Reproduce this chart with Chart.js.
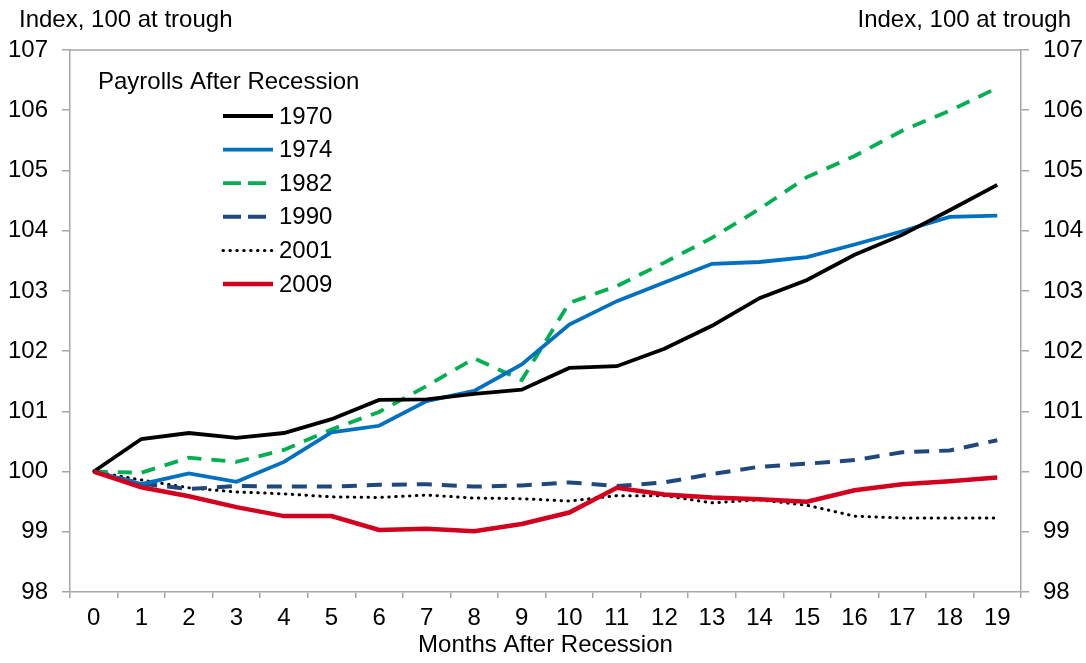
<!DOCTYPE html>
<html>
<head>
<meta charset="utf-8">
<script src="https://cdn.jsdelivr.net/npm/chart.js@4"></script>
<style>
  html, body { margin: 0; padding: 0; background: #fff; }
  #wrap { width: 1086px; height: 663px; position: relative; }
</style>
</head>
<body>
<div id="wrap"><canvas id="payrollChart"></canvas></div>
<script>
// =====================================================
// DATA
// =====================================================

const months = [
  "0", "1", "2", "3", "4", "5", "6", "7", "8", "9",
  "10", "11", "12", "13", "14", "15", "16", "17", "18", "19"
];

const yTicks = [98, 99, 100, 101, 102, 103, 104, 105, 106, 107];

const r1970 = [100, 100.54, 100.64, 100.56, 100.64, 100.87, 101.19, 101.2, 101.29, 101.36,
  101.72, 101.75, 102.04, 102.42, 102.88, 103.18, 103.6, 103.93, 104.34, 104.76];

const r1974 = [100, 99.79, 99.97, 99.83, 100.16, 100.65, 100.76, 101.17, 101.34, 101.78,
  102.44, 102.83, 103.14, 103.45, 103.48, 103.56, 103.77, 103.99, 104.23, 104.25];

const r1982 = [100, 99.98, 100.23, 100.16, 100.36, 100.7, 100.99, 101.42, 101.88, 101.52,
  102.8, 103.08, 103.47, 103.88, 104.36, 104.89, 105.24, 105.66, 105.99, 106.37];

const r1990 = [100, 99.8, 99.71, 99.76, 99.75, 99.75, 99.78, 99.79, 99.75, 99.77,
  99.82, 99.76, 99.82, 99.96, 100.08, 100.13, 100.19, 100.32, 100.35, 100.52];

const r2001 = [100, 99.86, 99.73, 99.66, 99.63, 99.58, 99.57, 99.61, 99.56, 99.55,
  99.51, 99.6, 99.6, 99.48, 99.53, 99.44, 99.26, 99.23, 99.23, 99.23];

const r2009 = [100, 99.74, 99.59, 99.41, 99.26, 99.26, 99.03, 99.05, 99.01, 99.13,
  99.32, 99.73, 99.62, 99.57, 99.54, 99.5, 99.69, 99.79, 99.84, 99.9];

const FONT = "'Liberation Sans', Arial, sans-serif";
const FSIZE = 24;
const GRAY = "#a6a6a6";

// =====================================================
// PLUGINS
// =====================================================

const frameAndText = {
  id: "frameAndText",
  afterDraw(chart) {
    const ctx = chart.ctx;
    const a = chart.chartArea;

    ctx.save();

    // top border of plot box
    ctx.strokeStyle = GRAY;
    ctx.lineWidth = 1.5;
    ctx.beginPath();
    ctx.moveTo(a.left, a.top);
    ctx.lineTo(a.right, a.top);
    ctx.stroke();

    // axis unit labels
    ctx.fillStyle = "#000";
    ctx.font = FSIZE + "px " + FONT;
    ctx.textBaseline = "alphabetic";
    ctx.textAlign = "left";
    ctx.fillText("Index, 100 at trough", 19, 27);
    ctx.textAlign = "right";
    ctx.fillText("Index, 100 at trough", 1071, 27);

    ctx.restore();
  }
};

const insideLegend = {
  id: "insideLegend",
  afterDatasetsDraw(chart, args, opts) {
    const ctx = chart.ctx;

    ctx.save();
    ctx.fillStyle = "#000";
    ctx.font = FSIZE + "px " + FONT;
    ctx.textBaseline = "middle";
    ctx.textAlign = "left";
    ctx.fillText(opts.title, opts.titleX, opts.titleY);

    chart.data.datasets.forEach((ds, i) => {
      const y = opts.firstY + i * opts.rowGap;

      ctx.strokeStyle = ds.borderColor;
      ctx.lineWidth = ds.borderWidth;
      ctx.lineCap = ds.borderCapStyle || "butt";
      ctx.setLineDash(ds.legendDash || []);
      ctx.beginPath();
      ctx.moveTo(opts.lineX, y);
      ctx.lineTo(opts.lineX + opts.lineLen, y);
      ctx.stroke();
      ctx.setLineDash([]);

      ctx.fillText(ds.label, opts.textX, y + 1);
    });

    ctx.restore();
  }
};

// =====================================================
// CHART
// =====================================================

function series(label, data, color, width, dash, order, extra) {
  return Object.assign({
    label,
    data,
    borderColor: color,
    backgroundColor: color,
    borderWidth: width,
    borderDash: dash,
    pointRadius: 0,
    pointHoverRadius: 0,
    tension: 0,
    fill: false,
    order,
    yAxisID: "y"
  }, extra || {});
}

const yAxis = (position, width) => ({
  type: "linear",
  position,
  min: 98,
  max: 107,
  afterBuildTicks(scale) {
    scale.ticks = yTicks.map(v => ({ value: v }));
  },
  afterFit(scale) {
    scale.width = width;
  },
  ticks: {
    color: "#000",
    font: { family: FONT, size: FSIZE },
    padding: 14
  },
  grid: {
    drawOnChartArea: false,
    drawTicks: true,
    tickLength: 8,
    color: GRAY,
    lineWidth: 1.5
  },
  border: { color: GRAY, width: 1.5 }
});

new Chart(document.getElementById("payrollChart"), {
  type: "line",
  data: {
    labels: months,
    datasets: [
      series("1970", r1970, "#000000", 3.8, [], 1),
      series("1974", r1974, "#0070c0", 3.8, [], 2),
      series("1982", r1982, "#00b050", 3.8, [14, 10], 3, { legendDash: [18, 7] }),
      series("1990", r1990, "#1f497d", 4, [15, 10], 4, { legendDash: [18, 7] }),
      series("2001", r2001, "#000000", 3, [0.5, 6.4], 5,
        { borderCapStyle: "round", legendDash: [0.5, 6.4] }),
      series("2009", r2009, "#d2001e", 4.5, [], 0)
    ]
  },
  options: {
    responsive: true,
    maintainAspectRatio: false,
    animation: false,
    events: [],
    layout: { padding: { top: 50, left: 0, right: 0, bottom: 0 } },
    plugins: {
      legend: { display: false },
      tooltip: { enabled: false },
      insideLegend: {
        title: "Payrolls After Recession",
        titleX: 98,
        titleY: 82,
        firstY: 116,
        rowGap: 33.6,
        lineX: 223,
        lineLen: 50,
        textX: 279
      }
    },
    scales: {
      x: {
        type: "category",
        offset: true,
        afterFit(scale) {
          scale.height = 71;
        },
        ticks: {
          color: "#000",
          font: { family: FONT, size: FSIZE },
          padding: 6,
          maxRotation: 0,
          autoSkip: false
        },
        grid: {
          offset: true,
          drawOnChartArea: false,
          tickLength: 6,
          color: GRAY,
          lineWidth: 1.5
        },
        border: { color: GRAY, width: 1.5 },
        title: {
          display: true,
          text: "Months After Recession",
          color: "#000",
          font: { family: FONT, size: FSIZE },
          padding: { top: 0, bottom: 3 }
        }
      },
      y: yAxis("left", 70),
      y2: yAxis("right", 65)
    }
  },
  plugins: [frameAndText, insideLegend]
});
</script>
</body>
</html>
